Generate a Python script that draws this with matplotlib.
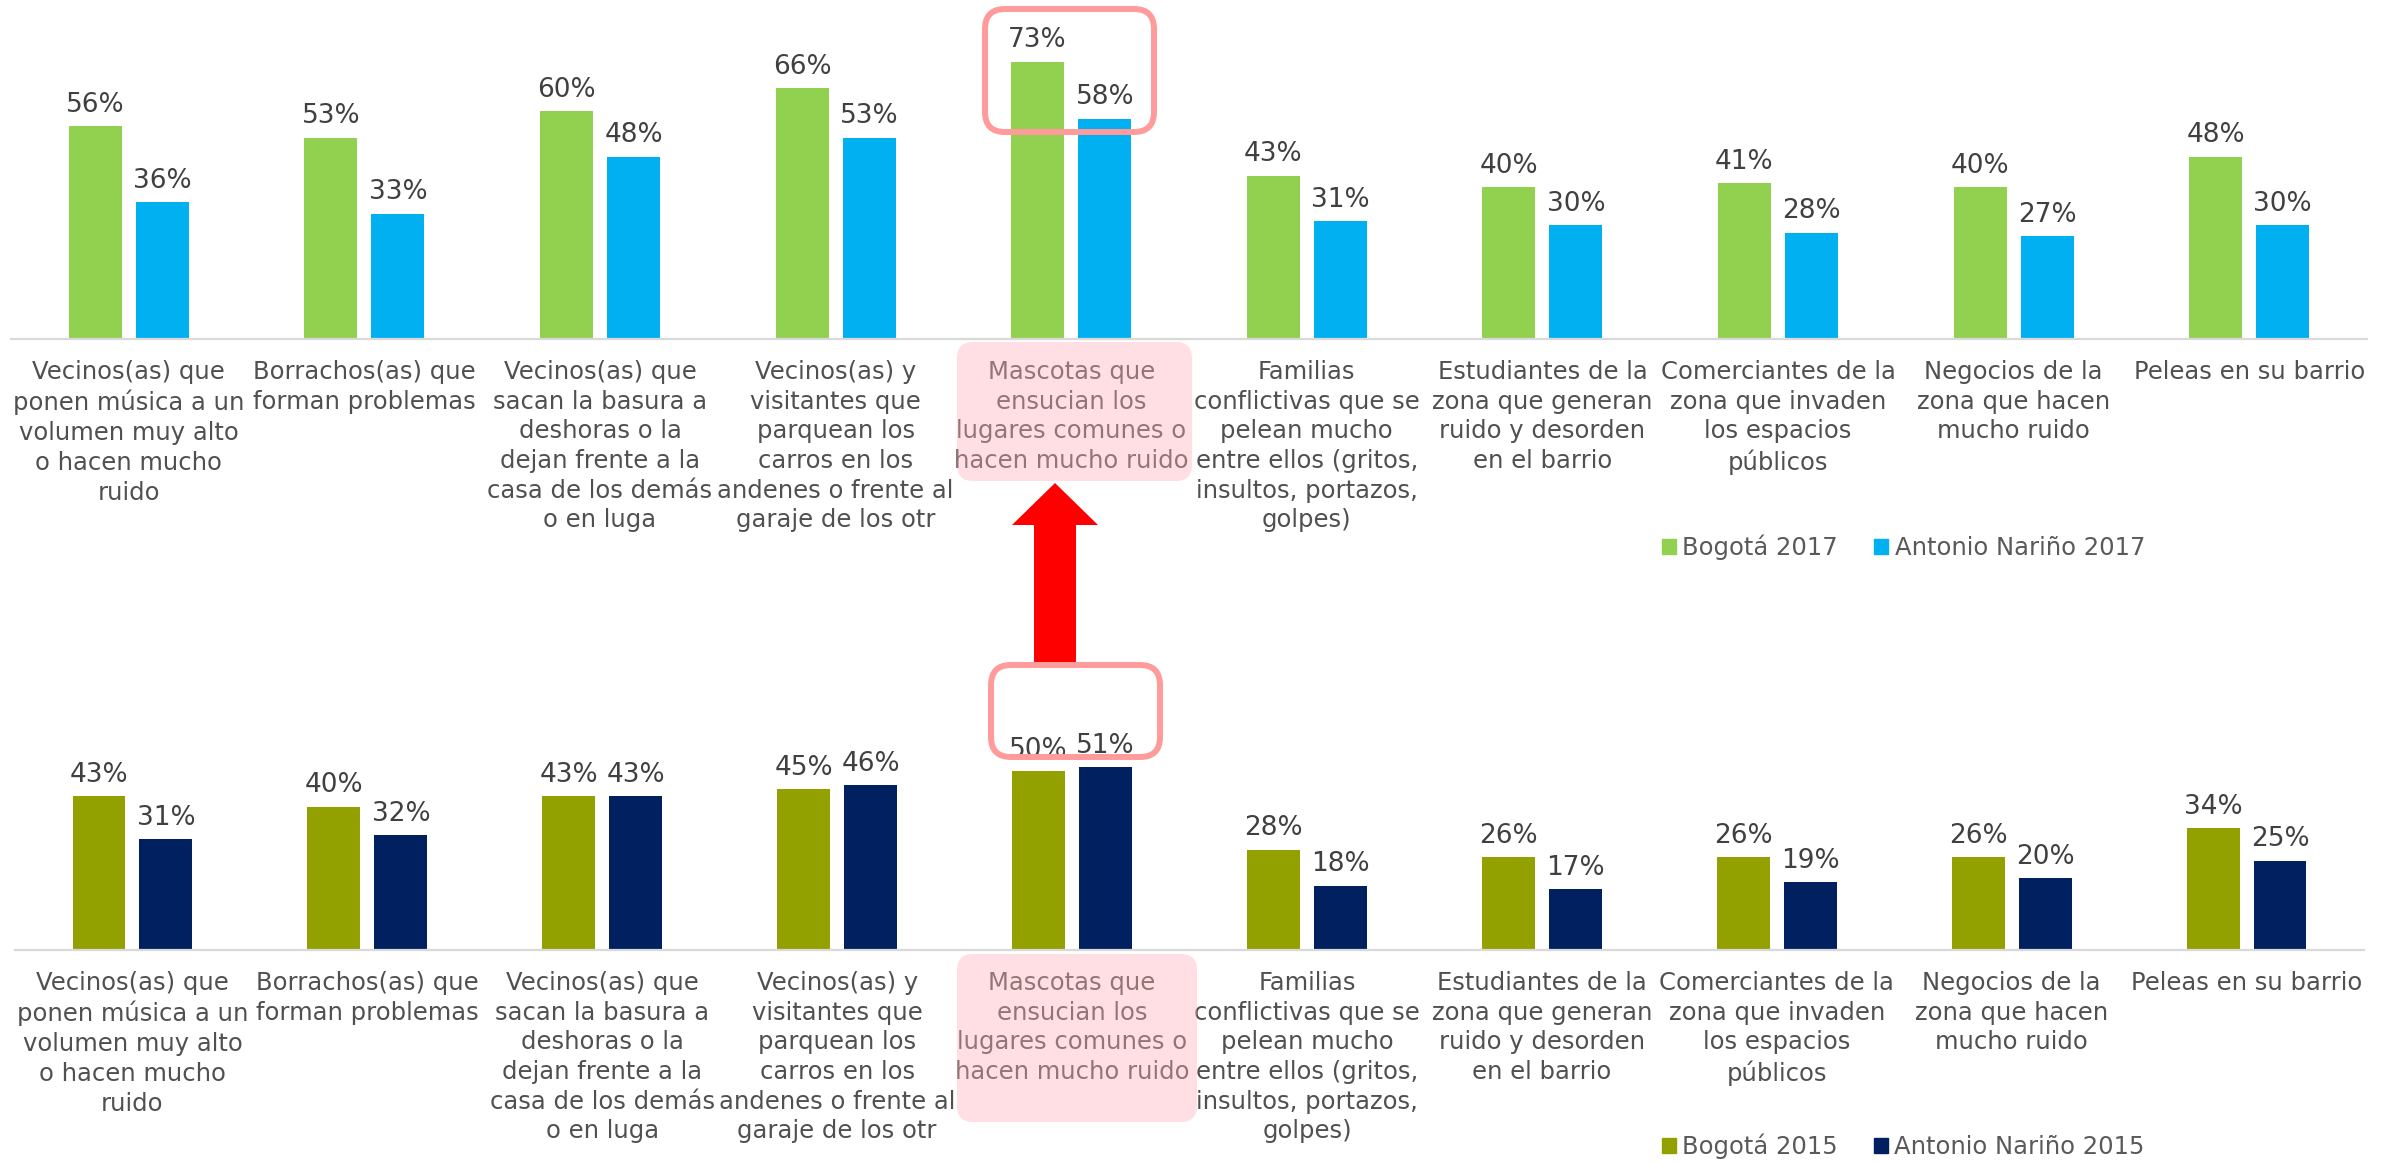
import numpy as np
import matplotlib.pyplot as plt
from matplotlib.patches import FancyBboxPatch, Polygon, Patch
from matplotlib.transforms import Affine2D

plt.rcParams['font.family'] = 'DejaVu Sans'

# Datos
categorias = [
    "Vecinos(as) que\nponen música a un\nvolumen muy alto\no hacen mucho\nruido",
    "Borrachos(as) que\nforman problemas",
    "Vecinos(as) que\nsacan la basura a\ndeshoras o la\ndejan frente a la\ncasa de los demás\no en luga",
    "Vecinos(as) y\nvisitantes que\nparquean los\ncarros en los\nandenes o frente al\ngaraje de los otr",
    "Mascotas que\nensucian los\nlugares comunes o\nhacen mucho ruido",
    "Familias\nconflictivas que se\npelean mucho\nentre ellos (gritos,\ninsultos, portazos,\ngolpes)",
    "Estudiantes de la\nzona que generan\nruido y desorden\nen el barrio",
    "Comerciantes de la\nzona que invaden\nlos espacios\npúblicos",
    "Negocios de la\nzona que hacen\nmucho ruido",
    "Peleas en su barrio",
]
bogota_2017 = [56, 53, 60, 66, 73, 43, 40, 41, 40, 48]
an_2017 = [36, 33, 48, 53, 58, 31, 30, 28, 27, 30]
bogota_2015 = [43, 40, 43, 45, 50, 28, 26, 26, 26, 34]
an_2015 = [31, 32, 43, 46, 51, 18, 17, 19, 20, 25]

W, H = 2394, 1162
fig = plt.figure(figsize=(W / 100, H / 100), dpi=100)
# coordenadas en pixeles, origen arriba a la izquierda
px = Affine2D().scale(1 / W, -1 / H).translate(0, 1) + fig.transFigure

texto = '#404040'
fs = 17.5
fs_val = 19


def panel(rect, ylim, v1, v2, c1, c2):
    ax = fig.add_axes(rect)
    x = np.arange(len(categorias))
    ancho = 0.225
    d = 0.1425
    ax.bar(x - d, v1, ancho, color=c1)
    ax.bar(x + d, v2, ancho, color=c2)
    for xi, a, b in zip(x, v1, v2):
        ax.annotate(f"{a}%", (xi - d, a), xytext=(0, 6), textcoords='offset points',
                    ha='center', va='bottom', fontsize=fs_val, color=texto)
        ax.annotate(f"{b}%", (xi + d, b), xytext=(0, 6), textcoords='offset points',
                    ha='center', va='bottom', fontsize=fs_val, color=texto)
    for xi, lab in zip(x, categorias):
        ax.annotate(lab, (xi, 0), xycoords=('data', 'axes fraction'), xytext=(0, -15),
                    textcoords='offset points', ha='center', va='top', fontsize=fs,
                    color='#505050', linespacing=1.3, multialignment='center')
    ax.set_xlim(-0.5, 9.5)
    ax.set_ylim(0, ylim)
    for s in ['top', 'left', 'right']:
        ax.spines[s].set_visible(False)
    ax.spines['bottom'].set_color('#D9D9D9')
    ax.spines['bottom'].set_linewidth(1.6)
    ax.set_xticks([])
    ax.set_yticks([])
    return ax


ax1 = panel([11 / W, (H - 339) / H, 2356 / W, 339 / H], 339 / 3.80,
            bogota_2017, an_2017, '#92D050', '#00B0F0')
ax2 = panel([15 / W, (H - 950) / H, 2349 / W, 350 / H], 350 / 3.58,
            bogota_2015, an_2015, '#92A000', '#002060')

# Leyendas
for y, c1, c2, l1, l2 in [(547, '#92D050', '#00B0F0', 'Bogotá 2017', 'Antonio Nariño 2017'),
                          (1146, '#92A000', '#002060', 'Bogotá 2015', 'Antonio Nariño 2015')]:
    fig.legend([Patch(color=c1), Patch(color=c2)], [l1, l2],
               loc='center left', bbox_to_anchor=(1662 / W, 1 - y / H),
               ncol=2, frameon=False, fontsize=fs, labelcolor='#595959',
               handlelength=0.58, handleheight=0.58, handletextpad=0.25,
               columnspacing=1.5, borderpad=0, borderaxespad=0)

# Resaltado de la categoría de mascotas
for x0, y0, x1, y1 in [(957, 342, 1192, 481), (957, 954, 1197, 1122)]:
    fig.add_artist(FancyBboxPatch((x0, y0), x1 - x0, y1 - y0,
                                  boxstyle='round,pad=0,rounding_size=16',
                                  transform=px, facecolor='#FFAFB7', alpha=0.39,
                                  edgecolor='none'))
for x0, y0, x1, y1 in [(985, 9, 1154, 132), (991, 665, 1160, 757)]:
    fig.add_artist(FancyBboxPatch((x0, y0), x1 - x0, y1 - y0,
                                  boxstyle='round,pad=0,rounding_size=20',
                                  transform=px, facecolor='none',
                                  edgecolor='#FF9B9B', linewidth=4.3))

flecha = [(1034, 662), (1076, 662), (1076, 525), (1098, 525), (1055, 483),
          (1012, 525), (1034, 525)]
fig.add_artist(Polygon(flecha, closed=True, transform=px, facecolor='#FF0000',
                       edgecolor='none'))

fig.savefig('out.png', dpi=100)
